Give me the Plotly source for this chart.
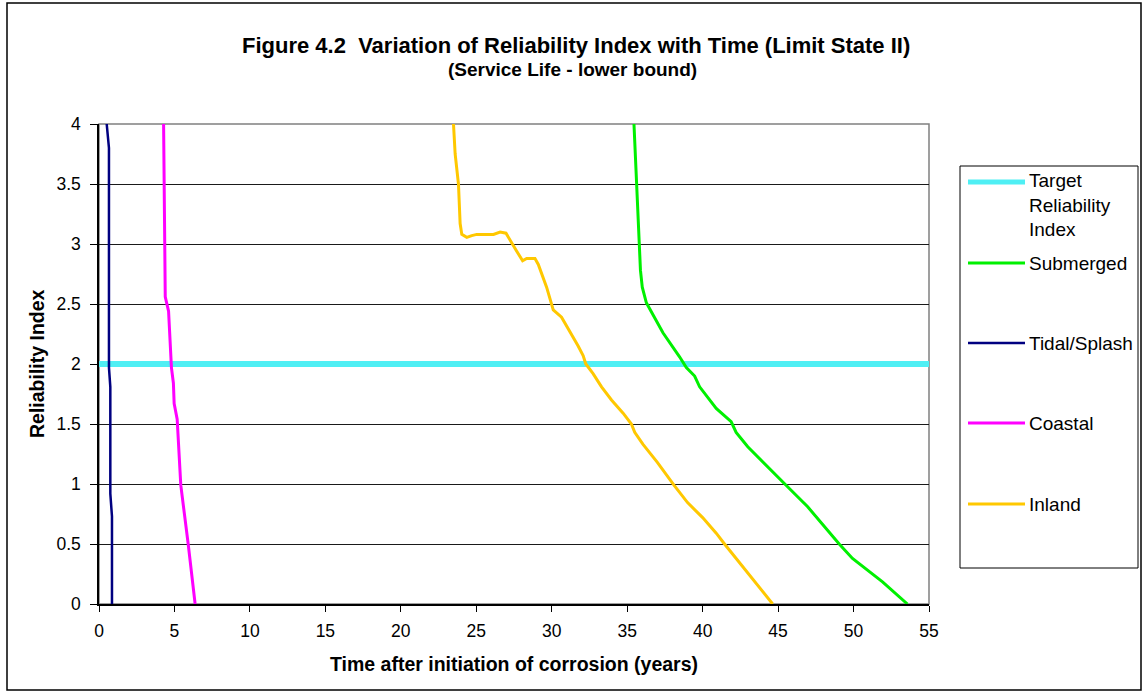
import plotly.graph_objects as go

# ---------------- data ----------------
target_x = [0, 55]
target_y = [2, 2]

submerged_x = [35.45, 35.61, 35.78, 35.88, 36.0, 36.27, 36.49, 37.37, 38.47, 38.92, 39.47,
               39.80, 40.9, 41.89, 42.22, 42.99, 45.53, 46.96, 49.05, 49.93, 51.92, 53.57]
submerged_y = [4.0, 3.5, 3.0, 2.78, 2.64, 2.51, 2.46, 2.26, 2.06, 1.97, 1.90,
               1.81, 1.63, 1.52, 1.43, 1.31, 0.99, 0.81, 0.50, 0.38, 0.185, 0.0]

tidal_x = [0.51, 0.66, 0.66, 0.75, 0.75, 0.86, 0.86]
tidal_y = [4.0, 3.8, 1.97, 1.81, 0.92, 0.73, 0.0]

coastal_x = [4.28, 4.32, 4.39, 4.61, 4.80, 4.93, 4.98, 5.18, 5.42, 5.91, 6.15, 6.17, 6.24, 6.37]
coastal_y = [4.0, 3.30, 2.56, 2.44, 1.97, 1.84, 1.67, 1.54, 0.99, 0.50, 0.255, 0.20, 0.116, 0.0]

inland_x = [23.49, 23.60, 23.82, 23.89, 23.93, 24.04, 24.37, 24.70, 25.03, 26.14, 26.58, 26.97,
            27.35, 27.68, 28.07, 28.34, 28.89, 29.11, 29.66, 30.10, 30.65, 30.98, 31.42, 31.75,
            32.08, 32.26, 32.74, 33.30, 33.96, 34.73, 35.28, 35.50, 36.05, 37.0, 38.1, 39.0,
            40.0, 40.9, 41.45, 42.88, 44.64]
inland_y = [4.0, 3.75, 3.50, 3.28, 3.17, 3.08, 3.055, 3.07, 3.08, 3.08, 3.10, 3.09,
            3.015, 2.94, 2.86, 2.88, 2.88, 2.83, 2.64, 2.45, 2.39, 2.32, 2.22, 2.15,
            2.07, 2.0, 1.92, 1.81, 1.70, 1.59, 1.50, 1.43, 1.33, 1.18, 0.99, 0.845,
            0.72, 0.59, 0.50, 0.28, 0.0]

x_ticks = list(range(0, 56, 5))
y_ticks = [0, 0.5, 1, 1.5, 2, 2.5, 3, 3.5, 4]

series_names = ["Target<br>Reliability<br>Index", "Submerged", "Tidal/Splash", "Coastal", "Inland"]
series_colors = ["#4FEFF4", "#00F000", "#000080", "#FF00FF", "#FFC800"]
series_widths = [6, 3, 2.5, 3, 3]

# ---------------- layout geometry ----------------
W, H = 1145, 693
L, R, T, B = 99, 929, 124, 604
FONT = "Liberation Sans, Arial, sans-serif"


def px(x):
    return (x - L) / (R - L)


def py(y):
    return (B - y) / (B - T)


fig = go.Figure()
data = [(target_x, target_y), (submerged_x, submerged_y), (tidal_x, tidal_y),
        (coastal_x, coastal_y), (inland_x, inland_y)]
for (xs, ys), name, col, w in zip(data, series_names, series_colors, series_widths):
    fig.add_trace(go.Scatter(x=xs, y=ys, mode="lines", name=name.replace("<br>", " "),
                             line=dict(color=col, width=w), showlegend=False,
                             cliponaxis=False))

shapes = []
# outer figure border
shapes.append(dict(type="rect", xref="paper", yref="paper", x0=px(7), x1=px(1141),
                   y0=py(690), y1=py(3), line=dict(color="#000000", width=1.5), layer="below"))
# plot area border (grey)
shapes.append(dict(type="rect", xref="paper", yref="paper", x0=0, x1=1, y0=0, y1=1,
                   line=dict(color="#808080", width=1.5), layer="below"))
# legend box
shapes.append(dict(type="rect", xref="paper", yref="paper", x0=px(960), x1=px(1138),
                   y0=py(568), y1=py(166), line=dict(color="#000000", width=1), layer="above"))

annotations = []
leg_y = [182, 263, 343, 423, 504]
for name, col, w, yy in zip(series_names, series_colors, series_widths, leg_y):
    shapes.append(dict(type="line", xref="paper", yref="paper", x0=px(968), x1=px(1025),
                       y0=py(yy), y1=py(yy), line=dict(color=col, width=min(w, 5))))
    if "<br>" in name:
        annotations.append(dict(xref="paper", yref="paper", x=px(1027), y=py(yy - 14),
                                xanchor="left", yanchor="top", align="left", showarrow=False,
                                text=name, font=dict(family=FONT, size=19, color="#000")))
    else:
        annotations.append(dict(xref="paper", yref="paper", x=px(1027), y=py(yy),
                                xanchor="left", yanchor="middle", align="left", showarrow=False,
                                text=name, font=dict(family=FONT, size=19, color="#000")))

# titles
annotations.append(dict(xref="paper", yref="paper", x=px(576), y=py(45), xanchor="center",
                        yanchor="middle", showarrow=False,
                        text="<b>Figure 4.2  Variation of Reliability Index with Time (Limit State II)</b>",
                        font=dict(family=FONT, size=22, color="#000")))
annotations.append(dict(xref="paper", yref="paper", x=px(572), y=py(70), xanchor="center",
                        yanchor="middle", showarrow=False,
                        text="<b>(Service Life - lower bound)</b>",
                        font=dict(family=FONT, size=19, color="#000")))
annotations.append(dict(xref="paper", yref="paper", x=px(514), y=py(664), xanchor="center",
                        yanchor="middle", showarrow=False,
                        text="<b>Time after initiation of corrosion (years)</b>",
                        font=dict(family=FONT, size=19.5, color="#000")))
annotations.append(dict(xref="paper", yref="paper", x=px(37), y=py(364), xanchor="center",
                        yanchor="middle", showarrow=False, textangle=-90,
                        text="<b>Reliability Index</b>",
                        font=dict(family=FONT, size=19.5, color="#000")))

fig.update_layout(
    width=W, height=H,
    margin=dict(l=L, r=W - R, t=T, b=H - B, pad=0),
    paper_bgcolor="white", plot_bgcolor="white",
    font=dict(family=FONT, size=17, color="#000"),
    shapes=shapes, annotations=annotations, showlegend=False,
    xaxis=dict(range=[0, 55], tickvals=x_ticks, ticks="outside", ticklen=6, tickwidth=1,
               tickcolor="#000", showline=True, linecolor="#000", linewidth=1.5,
               showgrid=False, zeroline=False, fixedrange=True, ticklabelstandoff=4,
               tickfont=dict(family=FONT, size=17.5, color="#000")),
    yaxis=dict(range=[0, 4], tickvals=y_ticks, ticks="outside", ticklen=7, tickwidth=1,
               tickcolor="#000", showline=True, linecolor="#000", linewidth=1.5,
               showgrid=True, gridcolor="#1a1a1a", gridwidth=1, zeroline=False,
               fixedrange=True, ticklabelstandoff=6,
               tickfont=dict(family=FONT, size=17.5, color="#000")),
)

fig.write_html("out.html")
